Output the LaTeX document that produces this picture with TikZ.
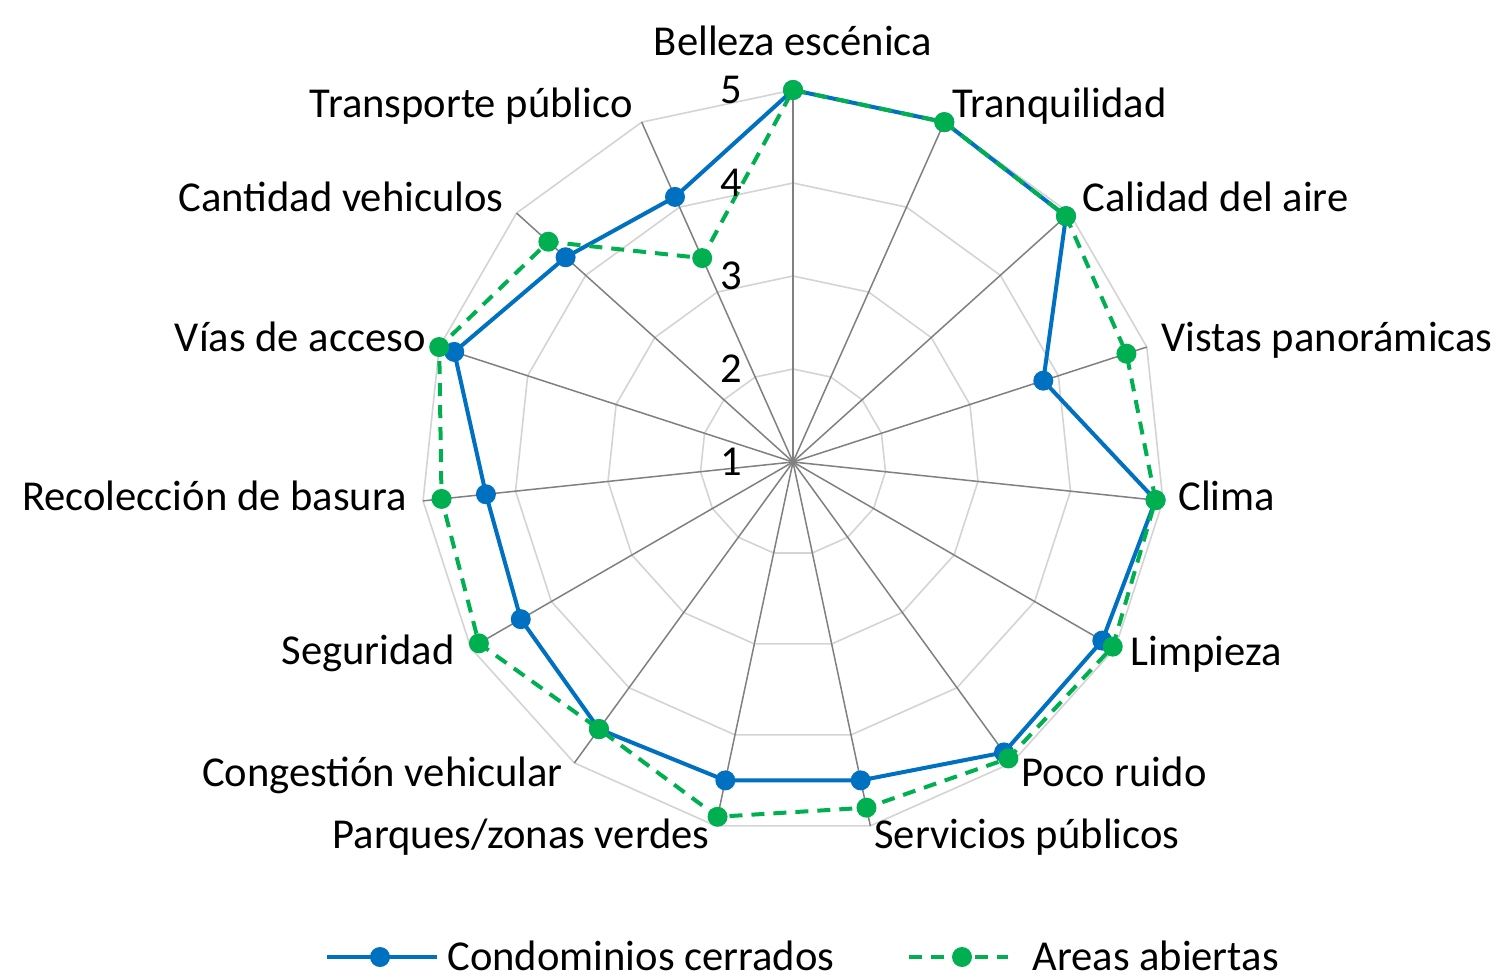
\documentclass[tikz,border=0pt]{standalone}
\usepackage{fontspec}
\setmainfont{Carlito}
\definecolor{serblue}{HTML}{0070C0}
\definecolor{sergreen}{HTML}{00B050}
\definecolor{gridgray}{HTML}{D4D4D4}
\definecolor{spokegray}{HTML}{808080}
\tikzset{
  gridline/.style={draw=gridgray, line width=0.8pt, line join=miter},
  spokeline/.style={draw=spokegray, line width=0.75pt},
  blueline/.style={draw=serblue, line width=2pt, line join=round},
  greenline/.style={draw=sergreen, line width=2pt, dash pattern=on 6.5pt off 4.5pt, line join=round},
  axislabel/.style={inner sep=0pt, font=\fontsize{21.3}{25}\selectfont},
  scalelabel/.style={inner sep=0pt, font=\fontsize{21.3}{25}\selectfont},
}
\begin{document}
\begin{tikzpicture}[x=0.5pt,y=-0.5pt]
\useasboundingbox (0,0) rectangle (1500,979);
\fill[white] (0,0) rectangle (1500,979);
\coordinate (c) at (793,462);
% grid polygons
\foreach \L in {1,...,4}{
  \draw[gridline] (793,{462-93*\L}) \foreach \i in {1,...,14}{ -- ({793+93*\L*sin(24*\i)},{462-93*\L*cos(24*\i)}) } -- cycle;
}
% spokes
\foreach \i in {0,...,14}{
  \coordinate (o\i) at ({793+372*sin(24*\i)},{462-372*cos(24*\i)});
  \draw[spokeline] (c) -- (o\i);
}
% data coordinates
\foreach \v [count=\i from 0] in {5,5,4.95,3.83,4.92,4.84,4.86,4.5,4.5,4.55,4.38,4.32,4.83,4.29,4.12}{
  \coordinate (b\i) at ({793+93*(\v-1)*sin(24*\i)},{462-93*(\v-1)*cos(24*\i)});
}
\foreach \v [count=\i from 0] in {5,5,4.95,4.77,4.92,4.97,4.94,4.8,4.9,4.55,4.9,4.8,5.0,4.54,3.4}{
  \coordinate (g\i) at ({793+93*(\v-1)*sin(24*\i)},{462-93*(\v-1)*cos(24*\i)});
}
% blue series
\draw[blueline] (b0) \foreach \i in {1,...,14}{ -- (b\i) } -- cycle;
\foreach \i in {0,...,14}{ \fill[serblue] (b\i) circle (5pt); }
% green series
\draw[greenline] (g0) \foreach \i in {1,...,14}{ -- (g\i) } -- cycle;
\foreach \i in {0,...,14}{ \fill[sergreen] (g\i) circle (5pt); }
% scale labels
\foreach \k in {1,...,5}{
  \node[scalelabel] (s\k) at (731,{462-93*(\k-1)}) {\k};
}
% axis labels
\node[axislabel, anchor=base] (l0) at (793,56) {Belleza escénica};
\node[axislabel, anchor=base west] (l1) at (952,118) {Tranquilidad};
\node[axislabel, anchor=base west] (l2) at (1082,212) {Calidad del aire};
\node[axislabel, anchor=base west] (l3) at (1161,351) {Vistas panorámicas};
\node[axislabel, anchor=base west] (l4) at (1178,510) {Clima};
\node[axislabel, anchor=base west] (l5) at (1130,665) {Limpieza};
\node[axislabel, anchor=base west] (l6) at (1021,786) {Poco ruido};
\node[axislabel, anchor=base west] (l7) at (874,848) {Servicios públicos};
\node[axislabel, anchor=base east] (l8) at (710,848) {Parques/zonas verdes};
\node[axislabel, anchor=base east] (l9) at (563,786) {Congestión vehicular};
\node[axislabel, anchor=base east] (l10) at (455,664) {Seguridad};
\node[axislabel, anchor=base east] (l11) at (407,510) {Recolección de basura};
\node[axislabel, anchor=base east] (l12) at (426,351) {Vías de acceso};
\node[axislabel, anchor=base east] (l13) at (504,212) {Cantidad vehiculos};
\node[axislabel, anchor=base east] (l14) at (633,118) {Transporte público};
% legend
\coordinate (lb1) at (327,957);
\coordinate (lb2) at (437,957);
\coordinate (lbm) at (380,957);
\draw[blueline] (lb1) -- (lb2);
\fill[serblue] (lbm) circle (5pt);
\node[axislabel, anchor=base west] (legb) at (447,970) {Condominios cerrados};
\coordinate (lg1) at (909,957);
\coordinate (lg2) at (1008,957);
\coordinate (lgm) at (962,957);
\draw[greenline] (lg1) -- (lg2);
\fill[sergreen] (lgm) circle (5pt);
\node[axislabel, anchor=base west] (legg) at (1032,970) {Areas abiertas};
\end{tikzpicture}
\end{document}
